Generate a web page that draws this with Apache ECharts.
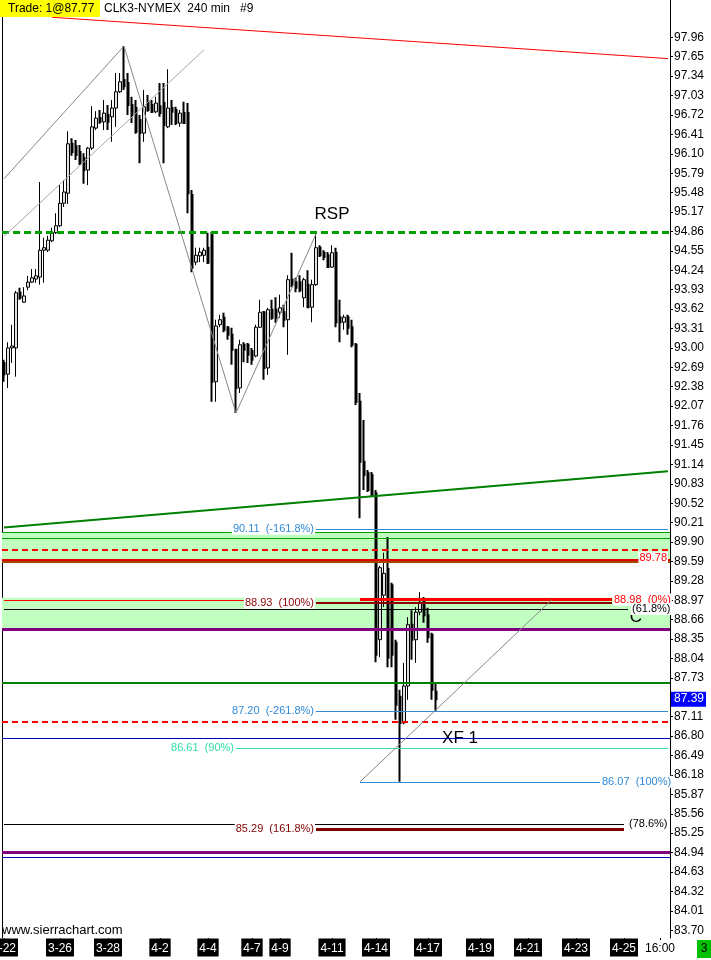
<!DOCTYPE html>
<html><head><meta charset="utf-8">
<script src="https://cdn.jsdelivr.net/npm/echarts@6/dist/echarts.min.js"></script>
<style>html,body{margin:0;padding:0;background:#fff}#c{width:711px;height:960px}</style>
</head><body><div id="c"></div><script>
const FONT = '"Liberation Sans", Arial, sans-serif';

// ---- OHLC of the 240 min bars (CLK3) ----
const opens = [92.76,92.58,93.00,93.00,93.88,93.73,93.97,94.05,94.10,94.13,94.56,94.56,94.71,94.84,94.95,95.31,95.47,96.26,96.22,96.13,96.03,95.84,96.19,96.51,96.67,96.61,96.72,96.69,96.83,97.09,97.28,97.23,96.88,96.83,96.64,96.43,96.93,96.88,96.77,96.86,96.91,96.53,96.83,96.80,96.59,96.75,96.75,95.44,94.37,94.47,94.48,94.60,94.80,92.46,93.37,93.48,93.32,93.21,92.97,92.36,93.05,93.05,92.95,92.87,93.33,93.57,92.68,93.61,93.61,93.57,93.57,93.45,94.09,94.05,94.05,93.80,94.01,93.65,94.01,94.60,94.52,94.48,94.29,94.52,93.49,93.41,93.49,93.33,93.05,92.14,91.18,91.00,90.97,90.68,88.34,89.05,89.47,89.21,88.29,87.43,87.01,87.60,88.58,88.34,88.78,88.94,88.73,88.42,87.51];
const highs = [92.81,93.09,93.37,93.91,93.96,93.97,94.15,94.26,94.26,95.65,94.76,94.79,94.92,95.15,95.60,95.68,96.46,96.35,96.32,96.24,96.11,96.21,96.86,96.78,96.80,96.96,96.88,96.96,97.39,97.39,97.82,97.39,97.01,96.96,96.72,97.12,97.04,96.96,97.01,97.23,97.23,97.45,96.96,96.85,96.80,96.93,96.91,95.52,94.60,94.60,94.60,94.84,94.85,93.45,93.53,93.56,93.35,93.32,92.98,93.13,93.09,93.08,93.00,93.37,93.77,93.59,93.64,93.77,93.81,93.85,93.69,94.16,94.52,94.12,94.16,94.12,94.24,94.09,94.82,94.64,94.56,94.53,94.64,94.60,93.77,93.53,93.53,93.45,93.08,92.28,91.85,91.05,91.02,90.73,89.52,89.73,89.98,89.25,88.34,87.54,87.97,88.70,88.81,88.86,89.10,89.02,88.85,88.45,87.65];
const lows = [92.46,92.36,92.76,92.54,93.77,93.72,93.92,94.04,94.04,94.01,94.04,94.53,94.69,94.82,94.93,95.25,95.30,96.07,96.00,95.92,95.62,95.60,96.16,96.48,96.58,96.48,96.48,96.29,96.53,97.07,97.12,96.72,96.59,96.42,95.95,96.29,96.77,96.75,96.75,96.69,95.95,96.51,96.56,96.56,96.53,96.58,95.15,94.21,94.32,94.37,94.37,94.34,92.14,92.14,93.33,93.25,93.13,92.73,91.96,92.28,92.77,92.76,92.73,92.85,93.32,92.49,92.57,93.45,93.40,93.48,93.33,92.89,93.97,93.89,93.89,93.65,93.64,93.41,93.99,94.45,94.40,94.28,94.28,93.33,93.09,93.29,93.21,93.01,92.09,90.28,90.73,90.70,90.62,87.98,88.06,88.86,87.90,87.90,87.06,86.07,86.99,87.38,88.02,87.97,88.73,88.61,88.29,87.38,87.19];
const closes = [92.58,93.00,93.03,93.88,93.80,93.83,94.05,94.12,94.15,94.56,94.60,94.72,94.84,94.95,95.31,95.49,96.26,96.13,96.08,95.95,95.84,96.19,96.53,96.67,96.61,96.75,96.61,96.83,97.09,97.25,97.18,96.88,96.72,96.45,96.43,96.85,96.80,96.77,96.91,96.75,96.56,96.83,96.77,96.59,96.75,96.59,95.47,94.28,94.48,94.53,94.56,94.36,92.46,93.35,93.45,93.29,93.21,92.97,92.36,93.05,92.97,92.89,92.81,93.33,93.57,92.68,93.61,93.48,93.48,93.64,93.45,94.09,94.01,93.96,93.92,94.09,93.65,94.01,94.60,94.48,94.45,94.29,94.52,93.41,93.41,93.49,93.32,93.05,92.14,91.18,90.97,90.73,90.65,88.10,89.49,89.40,88.05,88.10,87.30,87.01,87.60,88.58,88.34,88.78,88.94,88.73,88.38,87.54,87.39];

// ---- axes ----
const yTicks = [83.70,84.01,84.32,84.63,84.94,85.25,85.56,85.87,86.18,86.49,86.80,87.11,87.42,87.73,88.04,88.35,88.66,88.97,89.28,89.59,89.90,90.21,90.52,90.83,91.14,91.45,91.76,92.07,92.38,92.69,93.00,93.31,93.62,93.93,94.24,94.55,94.86,95.17,95.48,95.79,96.10,96.41,96.72,97.03,97.34,97.65,97.96];
const dateTicks = [[0,'3-22'],[14,'3-26'],[26,'3-28'],[39,'4-2'],[51,'4-4'],[62,'4-7'],[69,'4-9'],[82,'4-11'],[93,'4-14'],[106,'4-17'],[119,'4-19'],[131,'4-21'],[143,'4-23'],[155,'4-25']];
const timeTicks = [[164,'16:00']];
const SLOTS = 167;
const lastPrice = 87.39;
const yMin = 83.576, yMax = 98.556;

// ---- drawing levels ----
const band1 = [90.06, 89.60];
const band2 = [89.01, 88.50];
const greenThin = [90.06, 89.96];
const redDashed = [89.78, 87.03];
const redSolid = 89.61, brownSolid = 89.58;
const purpleLines = [88.50, 84.94];
const greenSolid = 87.65;
const darkBlueLines = [86.76, 84.87];
const rspLevel = 94.84;
const fibUpper = [90.11, 87.20];   // -161.8%, -261.8%
const fib90 = 86.61, fib100low = 86.07, fib1618 = 85.31;
const fib100 = 88.93, fib0 = 88.98, fibLeft = 88.97;
const ret618 = 88.83, ret786 = 85.40;
const redTrend = [98.28, 97.62];
const greenTrend = [90.13, 91.03];
const zigzag = [[0,95.70],[30,97.82],[58,91.96],[78,94.82]];
const channel = [[0,94.78],[50,97.76]];
const xfLeg = [[89,86.07],[137,88.98]];

const categories = Array.from({length: SLOTS}, (_, i) => String(i));
const tickMap = {};
dateTicks.forEach(([i, t]) => { tickMap[i] = {t, kind: 'd'}; });
timeTicks.forEach(([i, t]) => { tickMap[i] = {t, kind: 't'}; });

const upData = [], downData = [];
for (let i = 0; i < opens.length; i++) {
  const v = [opens[i], closes[i], lows[i], highs[i]];
  if (closes[i] > opens[i]) { upData.push(v); downData.push('-'); }
  else { upData.push('-'); downData.push(v); }
}

const S = (color, width, type) => ({color, width, type: type || 'solid', opacity: 1});
const lbl = (text, color, pos, extra) => Object.assign({show: true, formatter: text, position: pos, color,
  backgroundColor: '#fff', padding: [1, 1, 0, 1], fontSize: 11, fontFamily: FONT, distance: 1}, extra || {});
const NOL = {show: false};
const full = (v, style, label) => ({yAxis: v, lineStyle: style, label: label || NOL});
const seg = (p1, p2, style, label) => [{coord: p1, lineStyle: style, label: label || NOL}, {coord: p2}];
const BLUE = '#2f8ad8', DRED = '#8b0000', SEA = '#33e0a0';

const markLines = [
  full(greenThin[0], S('#00a000', 1)),
  full(greenThin[1], S('#00a000', 1)),
  full(redDashed[0], S('#ff0000', 2, [6, 4]), lbl('89.78', '#ff0000', 'insideEndBottom', {distance: 2})),
  full(brownSolid, S('#a04800', 2)),
  full(redSolid, S('#e00000', 2)),
  full(purpleLines[0], S('#800080', 3)),
  full(purpleLines[1], S('#800080', 3)),
  full(greenSolid, S('#008000', 2)),
  full(redDashed[1], S('#ff0000', 2, [6, 4])),
  full(darkBlueLines[0], S('#0000c0', 1)),
  full(darkBlueLines[1], S('#0000c0', 1)),
  full(rspLevel, S('#00a000', 3, [7, 4])),
  seg([0, fibLeft], [60, fibLeft], S('#ff0000', 1)),
  seg([78, fib100], [152, fib100], S(DRED, 2), lbl('88.93  (100%)', DRED, 'start')),
  seg([89, fib0], [152, fib0], S('#ff0000', 3), lbl('88.98  (0%)', '#ff0000', 'end')),
  seg([0, ret618], [156, ret618], S('#000', 1), lbl('(61.8%)', '#000', 'end', {distance: 3})),
  seg([78, fibUpper[0]], [166, fibUpper[0]], S(BLUE, 1), lbl('90.11  (-161.8%)', BLUE, 'start')),
  seg([78, fibUpper[1]], [166, fibUpper[1]], S(BLUE, 1), lbl('87.20  (-261.8%)', BLUE, 'start')),
  seg([58, fib90], [166, fib90], S(SEA, 1), lbl('86.61  (90%)', SEA, 'start')),
  seg([89, fib100low], [149, fib100low], S(BLUE, 1), lbl('86.07  (100%)', BLUE, 'end')),
  seg([0, ret786], [155, ret786], S('#000', 1), lbl('(78.6%)', '#000', 'end', {distance: 4})),
  seg([78, fib1618], [155, fib1618], S('#800000', 3), lbl('85.29  (161.8%)', '#800000', 'start')),
  seg([12, redTrend[0]], [166, redTrend[1]], S('#ff0000', 1)),
  seg([0, greenTrend[0]], [166, greenTrend[1]], S('#008000', 2)),
  seg(zigzag[0], zigzag[1], S('#888', 1)),
  seg(zigzag[1], zigzag[2], S('#888', 1)),
  seg(zigzag[2], zigzag[3], S('#888', 1)),
  seg(channel[0], channel[1], S('#a8a8a8', 1)),
  seg(xfLeg[0], xfLeg[1], S('#888', 1)),
  full(lastPrice, {color: 'rgba(0,0,0,0)', width: 1}, {show: true, position: 'end', formatter: lastPrice.toFixed(2), color: '#fff',
    backgroundColor: '#0000ff', padding: [2, 2, 1, 3], fontSize: 12, fontFamily: FONT, distance: 1})
];

const chart = echarts.init(document.getElementById('c'), null, {renderer: 'canvas'});
chart.setOption({
  animation: false,
  backgroundColor: '#fff',
  grid: {left: 2, right: 41, top: 0, bottom: 22, containLabel: false, outerBoundsMode: 'none'},
  xAxis: {
    type: 'category', data: categories, boundaryGap: true,
    axisLine: {show: false},
    axisTick: {show: true, alignWithLabel: true, interval: (i) => tickMap[i] !== undefined, length: 2, lineStyle: {color: '#000'}},
    axisLabel: {
      interval: (i) => tickMap[i] !== undefined,
      margin: 3,
      formatter: (v, i) => { const m = tickMap[i]; if (!m) return ''; return m.kind === 'd' ? '{d|' + m.t + '}' : '{t|' + m.t + '}'; },
      rich: {
        d: {backgroundColor: '#000', color: '#fff', fontSize: 12, fontFamily: FONT, padding: [4, 2, 2, 2], lineHeight: 13},
        t: {color: '#000', fontSize: 12, fontFamily: FONT, padding: [4, 0, 2, 0], lineHeight: 13}
      }
    },
    splitLine: {show: false}
  },
  yAxis: [{
    type: 'value', position: 'right', min: yMin, max: yMax,
    axisLine: {show: true, lineStyle: {color: '#000', width: 1}},
    axisTick: {show: true, length: 3, lineStyle: {color: '#000'}, customValues: yTicks.filter(v => Math.abs(v - lastPrice) > 0.1)},
    axisLabel: {customValues: yTicks.filter(v => Math.abs(v - lastPrice) > 0.1), formatter: (v) => Number(v).toFixed(2),
      color: '#000', fontSize: 12, fontFamily: FONT, margin: 4},
    splitLine: {show: false}
  }, {
    type: 'value', position: 'left', min: yMin, max: yMax,
    axisLine: {show: true, lineStyle: {color: '#000', width: 1}},
    axisTick: {show: false}, axisLabel: {show: false}, splitLine: {show: false}
  }],
  series: [{
    type: 'candlestick', name: 'up', data: upData, barWidth: 3,
    itemStyle: {color: '#e2e2e2', color0: '#e2e2e2', borderColor: '#000', borderColor0: '#000', borderWidth: 1}
  }, {
    type: 'candlestick', name: 'down', data: downData, barWidth: 2,
    itemStyle: {color: '#000', color0: '#000', borderColor: '#000', borderColor0: '#000', borderWidth: 2},
    markArea: {silent: true, itemStyle: {color: '#c0ffc0'},
      data: [[{yAxis: band1[0]}, {yAxis: band1[1]}], [{yAxis: band2[0]}, {yAxis: band2[1]}]]},
    markLine: {silent: true, symbol: ['none', 'none'], animation: false, label: {show: false}, lineStyle: {type: 'solid'}, data: markLines},
    markPoint: {silent: true, z: 4, symbol: 'rect', symbolSize: 1, itemStyle: {color: 'rgba(0,0,0,0)'},
      label: {show: true, position: 'inside', formatter: '{b}', color: '#000', fontSize: 17, fontFamily: FONT},
      data: [{name: 'RSP', coord: [82, 95.14]}, {name: 'XF 1', coord: [114, 86.76]}, {name: 'C', coord: [158, 88.70]}]}
  }],
  graphic: [
    {type: 'rect', shape: {x: 0, y: 0, width: 100, height: 17}, style: {fill: '#ffff00'}, z: 100},
    {type: 'text', x: 8, y: 9, style: {text: 'Trade: 1@87.77', font: '12px ' + FONT, fill: '#000', verticalAlign: 'middle'}, z: 101},
    {type: 'text', x: 104, y: 9, style: {text: 'CLK3-NYMEX  240 min   #9', font: '12px ' + FONT, fill: '#000', verticalAlign: 'middle'}, z: 101},
    {type: 'text', x: 2, y: 930, style: {text: 'www.sierrachart.com', font: '13px ' + FONT, fill: '#000', verticalAlign: 'middle'}, z: 101},
    {type: 'rect', shape: {x: 697, y: 940, width: 14, height: 18}, style: {fill: '#00c000'}, z: 100},
    {type: 'text', x: 704, y: 949, style: {text: '3', font: '12px ' + FONT, fill: '#000', align: 'center', verticalAlign: 'middle'}, z: 101}
  ]
});
</script></body></html>
